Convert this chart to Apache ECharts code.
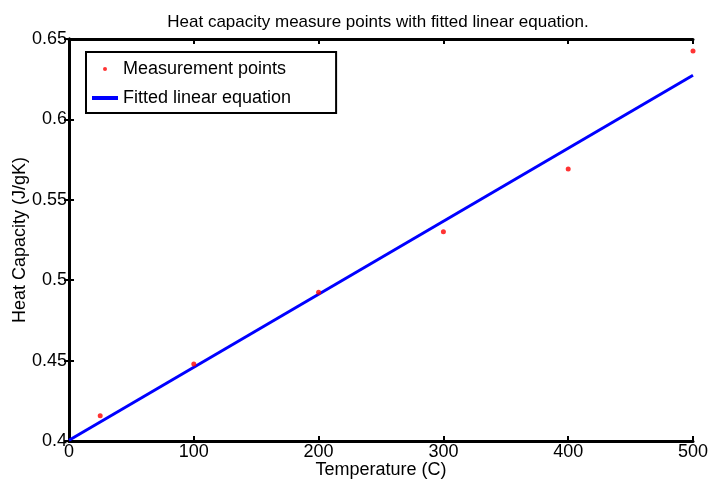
<!DOCTYPE html>
<html>
<head>
<meta charset="utf-8">
<script src="https://cdn.jsdelivr.net/npm/echarts@6/dist/echarts.min.js"></script>
<style>html,body{margin:0;padding:0;background:#fff}#c{width:711px;height:483px}</style>
</head>
<body>
<div id="c"></div>
<script>
// Data
const temperatures = [25, 100, 200, 300, 400, 500];
const heatCapacity = [0.4157, 0.4479, 0.4925, 0.5302, 0.5692, 0.6425];
const fitX = [0, 500];
const fitY = [0.4005, 0.6275];
const xTicks = [0, 100, 200, 300, 400, 500];
const yTicks = [0.4, 0.45, 0.5, 0.55, 0.6, 0.65];

const FONT = 'Liberation Sans, Arial, Helvetica, sans-serif';
const chart = echarts.init(document.getElementById('c'), null, {renderer: 'canvas'});

const axisLine = {show: true, lineStyle: {color: '#000', width: 3}};
const tick = {show: true, inside: true, length: 5, lineStyle: {color: '#000', width: 2}};

chart.setOption({
  animation: false,
  backgroundColor: '#fff',
  title: {
    text: 'Heat capacity measure points with fitted linear equation.',
    left: 373, textAlign: 'center', top: 9,
    textStyle: {fontFamily: FONT, fontSize: 17, fontWeight: 'normal', color: '#000'}
  },
  grid: {left: 69, right: 18, top: 39, bottom: 42, containLabel: false, outerBoundsMode: 'none'},
  legend: {
    left: 86, top: 52, orient: 'vertical',
    borderColor: '#000', borderWidth: 2,
    padding: [8, 45, 6, 6],
    itemGap: 11, itemWidth: 26, itemHeight: 4, itemTextGap: 9,
    textStyle: {fontFamily: FONT, fontSize: 18, color: '#000'},
    data: [
      {name: 'Measurement points', icon: 'circle'},
      {name: 'Fitted linear equation', icon: 'rect'}
    ]
  },
  xAxis: [{
    type: 'value', min: 0, max: 500, interval: 100, position: 'bottom',
    name: 'Temperature (C)', nameLocation: 'middle', nameGap: 20, nameMoveOverlap: false,
    nameTextStyle: {fontFamily: FONT, fontSize: 18, color: '#000'},
    axisLine: axisLine, axisTick: tick, splitLine: {show: false},
    axisLabel: {fontFamily: FONT, fontSize: 18, color: '#000', margin: 2,
      formatter: v => xTicks.includes(v) ? String(v) : ''}
  }, {
    type: 'value', min: 0, max: 500, interval: 100, position: 'top',
    axisLine: axisLine, axisTick: tick, splitLine: {show: false}, axisLabel: {show: false}
  }],
  yAxis: [{
    type: 'value', min: 0.4, max: 0.65, interval: 0.05, position: 'left',
    name: 'Heat Capacity (J/gK)', nameLocation: 'middle', nameGap: 40, nameMoveOverlap: false,
    nameTextStyle: {fontFamily: FONT, fontSize: 18, color: '#000'},
    axisLine: axisLine, axisTick: tick, splitLine: {show: false},
    axisLabel: {fontFamily: FONT, fontSize: 18, color: '#000', margin: 2,
      formatter: v => { const t = yTicks.find(y => Math.abs(y - v) < 1e-9); return t === undefined ? '' : String(t); }}
  }, {
    type: 'value', min: 0.4, max: 0.65, interval: 0.05, position: 'right',
    axisLine: axisLine, axisTick: tick, splitLine: {show: false}, axisLabel: {show: false}
  }],
  series: [{
    name: 'Measurement points', type: 'scatter',
    data: temperatures.map((t, i) => [t, heatCapacity[i]]),
    symbol: 'circle', symbolSize: 5, itemStyle: {color: '#ff0000'}, z: 3
  }, {
    name: 'Fitted linear equation', type: 'line',
    data: fitX.map((x, i) => [x, fitY[i]]),
    showSymbol: false, symbol: 'none',
    lineStyle: {color: '#0000ff', width: 3}, itemStyle: {color: '#0000ff'}, z: 2
  }]
});
</script>
</body>
</html>
